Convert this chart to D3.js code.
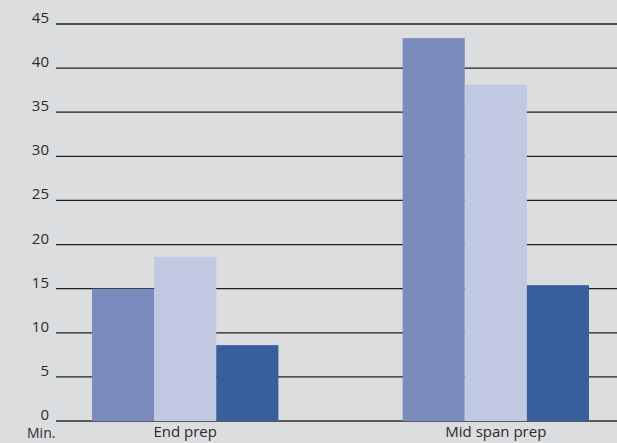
<!DOCTYPE html>
<html>
<head>
<meta charset="utf-8">
<script src="https://cdn.jsdelivr.net/npm/d3@7"></script>
<style>
    html, body { margin: 0; padding: 0; background: #dcdddf; }
    svg { display: block; font-family: "Open Sans", "DejaVu Sans", sans-serif; }
</style>
</head>
<body>
<div class="chart"></div>
<script>
(function () {
    "use strict";

    var categories = ["End prep", "Mid span prep"];
    var seriesKeys = ["a", "b", "c"];
    var seriesA = [15, 43.4];
    var seriesB = [18.6, 38.1];
    var seriesC = [8.6, 15.4];
    var yTicks = [0, 5, 10, 15, 20, 25, 30, 35, 40, 45];
    var unitLabel = "Min.";

    var width = 617, height = 443;
    var colors = ["#7a8bbe", "#c0c8e2", "#385e9e"];

    var data = categories.map(function (c, i) {
        return { cat: c, a: seriesA[i], b: seriesB[i], c: seriesC[i] };
    });

    var svg = d3.select(".chart").append("svg")
        .attr("width", width)
        .attr("height", height);

    var x0 = d3.scaleBand()
        .domain(categories)
        .range([92, 589])
        .paddingInner(0.4)
        .paddingOuter(0);

    var x1 = d3.scaleBand()
        .domain(seriesKeys)
        .range([0, x0.bandwidth()]);

    var y = d3.scaleLinear()
        .domain([0, 45])
        .range([421, 24]);

    // grid lines
    svg.append("g")
        .selectAll("line")
        .data(yTicks)
        .enter().append("line")
        .attr("x1", 56)
        .attr("x2", width)
        .attr("y1", function (d) { return y(d); })
        .attr("y2", function (d) { return y(d); })
        .attr("stroke", function (d) { return d === 0 ? "#5a5a5a" : "#1e1e1e"; })
        .attr("stroke-width", function (d) { return d === 0 ? 2 : 1.3; });

    // tick labels
    svg.append("g")
        .selectAll("text")
        .data(yTicks)
        .enter().append("text")
        .attr("x", 49)
        .attr("y", function (d) { return y(d) - 1; })
        .attr("text-anchor", "end")
        .attr("font-size", 15)
        .attr("fill", "#2b2b2b")
        .text(function (d) { return d; });

    // bars
    svg.append("g")
        .selectAll("g")
        .data(data)
        .enter().append("g")
        .attr("transform", function (d) { return "translate(" + x0(d.cat) + ",0)"; })
        .selectAll("rect")
        .data(function (d) { return seriesKeys.map(function (k) { return { key: k, value: d[k] }; }); })
        .enter().append("rect")
        .attr("x", function (d) { return x1(d.key); })
        .attr("y", function (d) { return y(d.value); })
        .attr("width", x1.bandwidth())
        .attr("height", function (d) { return y(0) - y(d.value); })
        .attr("fill", function (d, i) { return colors[i]; });

    // category labels
    svg.append("g")
        .selectAll("text")
        .data(categories)
        .enter().append("text")
        .attr("x", function (d) { return x0(d) + x0.bandwidth() / 2; })
        .attr("y", 437)
        .attr("text-anchor", "middle")
        .attr("font-size", 15)
        .attr("fill", "#2b2b2b")
        .text(function (d) { return d; });

    svg.append("text")
        .attr("x", 27)
        .attr("y", 438)
        .attr("font-size", 14)
        .attr("fill", "#2b2b2b")
        .text(unitLabel);
})();
</script>
</body>
</html>
